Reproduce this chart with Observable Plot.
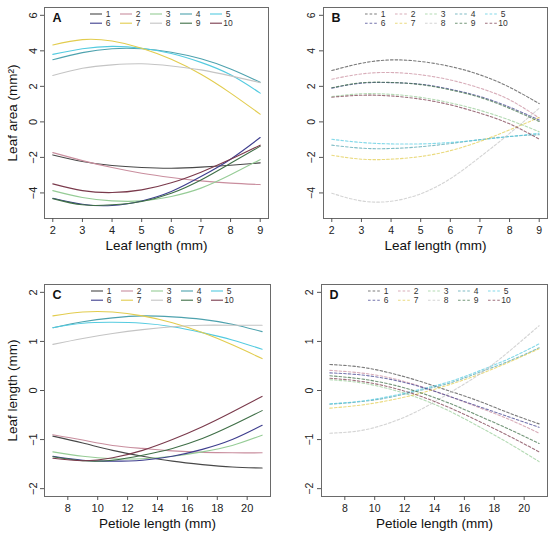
<!DOCTYPE html>
<html><head><meta charset="utf-8">
<script src="https://cdn.jsdelivr.net/npm/d3@7"></script>
<script src="https://cdn.jsdelivr.net/npm/@observablehq/plot@0.6"></script>
<style>
body{margin:0;background:#fff;}
#wrap{position:relative;width:550px;height:533px;background:#fff;}
.panel{position:absolute;}
</style></head><body><div id="wrap"></div>
<script>
const seriesNames = ["1","2","3","4","5","6","7","8","9","10"];
const seriesColors = ["#484848","#c98e9e","#96cc96","#4ea2ae","#54cbe0","#3e3e8e","#e2cc4e","#c4c4c4","#3f6f47","#7a3a4c"];

const leafLengthX = [2,3,4,5,6,7,8,9];
const petioleX = [7,9,11,13,15,17,19,21];

// Panel A: leaf area vs leaf length (solid)
const panelAValues = [
  [-1.86,-2.23,-2.46,-2.57,-2.61,-2.55,-2.44,-2.31],
  [-1.73,-2.18,-2.57,-2.89,-3.13,-3.32,-3.45,-3.53],
  [-3.87,-4.26,-4.45,-4.45,-4.20,-3.73,-2.98,-2.12],
  [3.50,3.90,4.12,4.12,3.92,3.55,2.98,2.23],
  [3.80,4.12,4.25,4.15,3.85,3.35,2.65,1.62],
  [-4.30,-4.64,-4.71,-4.45,-3.92,-3.08,-2.10,-0.88],
  [4.33,4.63,4.55,4.15,3.52,2.68,1.62,0.43],
  [2.61,3.02,3.21,3.27,3.15,2.93,2.59,2.21],
  [-4.32,-4.67,-4.67,-4.48,-4.02,-3.27,-2.33,-1.37],
  [-3.49,-3.87,-3.98,-3.83,-3.43,-2.83,-2.11,-1.31]
];
// Panel B: leaf area vs leaf length (dashed)
const panelBValues = [
  [2.89,3.30,3.49,3.40,3.12,2.65,1.95,1.03],
  [2.40,2.70,2.78,2.65,2.36,1.90,1.24,0.22],
  [1.43,1.58,1.55,1.38,1.07,0.65,0.10,-0.55],
  [-1.31,-1.48,-1.50,-1.40,-1.22,-1.00,-0.82,-0.72],
  [-0.98,-1.16,-1.24,-1.24,-1.16,-1.01,-0.83,-0.64],
  [1.90,2.18,2.21,2.12,1.84,1.43,0.83,0.10],
  [-1.88,-2.10,-2.10,-1.95,-1.62,-1.10,-0.45,0.25],
  [-4.02,-4.45,-4.47,-4.05,-3.20,-1.98,-0.65,0.77],
  [1.92,2.20,2.22,2.10,1.80,1.38,0.76,0.02],
  [1.39,1.50,1.46,1.28,0.96,0.49,-0.11,-0.97]
];
// Panel C: leaf length vs petiole length (solid)
const panelCValues = [
  [-0.93,-1.07,-1.22,-1.34,-1.44,-1.51,-1.56,-1.58],
  [-0.90,-1.01,-1.12,-1.18,-1.23,-1.26,-1.27,-1.27],
  [-1.25,-1.34,-1.39,-1.39,-1.34,-1.25,-1.12,-0.91],
  [1.28,1.40,1.48,1.52,1.50,1.45,1.35,1.20],
  [1.28,1.37,1.39,1.37,1.30,1.18,1.03,0.84],
  [-1.34,-1.42,-1.44,-1.42,-1.34,-1.20,-1.00,-0.71],
  [1.52,1.60,1.60,1.52,1.38,1.18,0.93,0.65],
  [0.94,1.06,1.16,1.24,1.30,1.33,1.33,1.33],
  [-1.35,-1.43,-1.42,-1.32,-1.18,-0.98,-0.71,-0.41],
  [-1.38,-1.43,-1.37,-1.22,-1.00,-0.74,-0.44,-0.12]
];
// Panel D: leaf length vs petiole length (dashed)
const panelDValues = [
  [0.53,0.48,0.36,0.19,-0.01,-0.22,-0.46,-0.68],
  [0.41,0.36,0.26,0.09,-0.12,-0.35,-0.59,-0.87],
  [0.22,0.16,0.03,-0.16,-0.42,-0.74,-1.08,-1.45],
  [-0.28,-0.23,-0.14,0.00,0.15,0.37,0.60,0.87],
  [-0.27,-0.22,-0.12,0.02,0.18,0.40,0.65,0.95],
  [0.36,0.32,0.23,0.08,-0.12,-0.33,-0.54,-0.75],
  [-0.36,-0.30,-0.20,-0.06,0.12,0.33,0.58,0.85],
  [-0.87,-0.82,-0.66,-0.40,-0.05,0.33,0.80,1.32],
  [0.30,0.24,0.13,-0.04,-0.26,-0.52,-0.79,-1.08],
  [0.25,0.19,0.07,-0.11,-0.35,-0.63,-0.93,-1.25]
];

const leafTicksX = [2,3,4,5,6,7,8,9];
const areaTicksY = [-4,-2,0,2,4,6];
const petioleTicksX = [8,10,12,14,16,18,20];
const lengthTicksY = [-2,-1,0,1,2];

const FONT = "'Liberation Sans', Arial, Helvetica, sans-serif";
const fmt = d => d < 0 ? "\u2212" + Math.abs(d) : String(d);

function makePanel(o) {
  const rows = [];
  o.vals.forEach((arr, i) => arr.forEach((v, j) => rows.push({s: seriesNames[i], x: o.xs[j], y: v})));
  const dash = o.dashed ? "2.6,2" : null;
  const op = o.dashed ? 0.72 : 1;
  const marks = [
    Plot.frame({stroke: "#6a6a6a"}),
    Plot.axisX({ticks: o.xTicks, tickSize: 4, tickFormat: () => "", label: null, stroke: "#555"}),
    Plot.axisY({ticks: o.yTicks, tickSize: 4, tickFormat: () => "", label: null, stroke: "#555"}),
    Plot.text(o.xTicks, {x: d => d, frameAnchor: "bottom", dy: 12, lineAnchor: "middle", text: fmt, fontSize: o.tickFont, fill: "#222"}),
    Plot.text(o.yTicks, {y: d => d, frameAnchor: "left", dx: -11.5, rotate: -90, textAnchor: "middle", lineAnchor: "middle", text: fmt, fontSize: o.tickFont, fill: "#222"}),
    Plot.line(rows, {x: "x", y: "y", z: "s", stroke: "s", curve: "natural", strokeWidth: 1.1, strokeDasharray: dash, strokeOpacity: op}),
    Plot.text([o.letter], {frameAnchor: "top-left", dx: 8, dy: 10, lineAnchor: "middle", fontWeight: "bold", fontSize: 12.5, fill: "#111"}),
    Plot.text([o.xLabel], {frameAnchor: "bottom", dy: 27, lineAnchor: "middle", fontSize: 13.5, fill: "#111"})
  ];
  if (o.yLabel) marks.push(Plot.text([o.yLabel], {frameAnchor: "left", dx: -31.5, rotate: -90, lineAnchor: "middle", textAnchor: "middle", fontSize: 13.5, fill: "#111"}));
  const svg = Plot.plot({
    width: 275, height: 266,
    marginLeft: o.ml, marginRight: o.mr, marginTop: o.mt, marginBottom: o.mb,
    x: {domain: o.xDomain},
    y: {domain: o.yDomain},
    color: {domain: seriesNames, range: seriesColors},
    style: {fontFamily: FONT, background: "white", overflow: "visible"},
    marks
  });
  // legend (2 rows x 5 columns) inside the frame top
  const g = d3.select(svg).append("g").attr("font-family", FONT).attr("font-size", 8.5);
  seriesNames.forEach((name, i) => {
    const col = i % 5, row = Math.floor(i / 5);
    const x0 = o.legX + col * 30, y0 = o.mt + 7 + row * 9.2;
    g.append("line").attr("x1", x0).attr("x2", x0 + 12).attr("y1", y0).attr("y2", y0)
      .attr("stroke", seriesColors[i]).attr("stroke-width", 1.1)
      .attr("stroke-dasharray", dash).attr("stroke-opacity", op);
    g.append("text").attr("x", x0 + 18).attr("y", y0).attr("dy", "0.32em").attr("fill", "#333").text(name);
  });
  const div = document.createElement("div");
  div.className = "panel";
  div.style.left = o.left + "px";
  div.style.top = o.top + "px";
  div.appendChild(svg);
  document.getElementById("wrap").appendChild(div);
}

makePanel({letter: "A", xs: leafLengthX, vals: panelAValues, dashed: false,
  xDomain: [1.72, 9.28], yDomain: [-5.44, 6.44], xTicks: leafTicksX, yTicks: areaTicksY,
  xLabel: "Leaf length (mm)", yLabel: "Leaf area (mm\u00b2)", tickFont: 11,
  ml: 44, mr: 7, mt: 7, mb: 48, left: 0, top: 0, legX: 90});
makePanel({letter: "B", xs: leafLengthX, vals: panelBValues, dashed: true,
  xDomain: [1.72, 9.28], yDomain: [-5.44, 6.44], xTicks: leafTicksX, yTicks: areaTicksY,
  xLabel: "Leaf length (mm)", yLabel: null, tickFont: 10.5,
  ml: 48, mr: 3, mt: 7, mb: 48, left: 275, top: 0, legX: 90});
makePanel({letter: "C", xs: petioleX, vals: panelCValues, dashed: false,
  xDomain: [6.44, 21.56], yDomain: [-2.16, 2.16], xTicks: petioleTicksX, yTicks: lengthTicksY,
  xLabel: "Petiole length (mm)", yLabel: "Leaf length (mm)", tickFont: 11,
  ml: 44, mr: 5, mt: 17, mb: 37, left: 0, top: 267, legX: 91});
makePanel({letter: "D", xs: petioleX, vals: panelDValues, dashed: true,
  xDomain: [6.44, 21.56], yDomain: [-2.16, 2.16], xTicks: petioleTicksX, yTicks: lengthTicksY,
  xLabel: "Petiole length (mm)", yLabel: null, tickFont: 10.5,
  ml: 46, mr: 3, mt: 17, mb: 37, left: 275, top: 267, legX: 93});
</script></body></html>
